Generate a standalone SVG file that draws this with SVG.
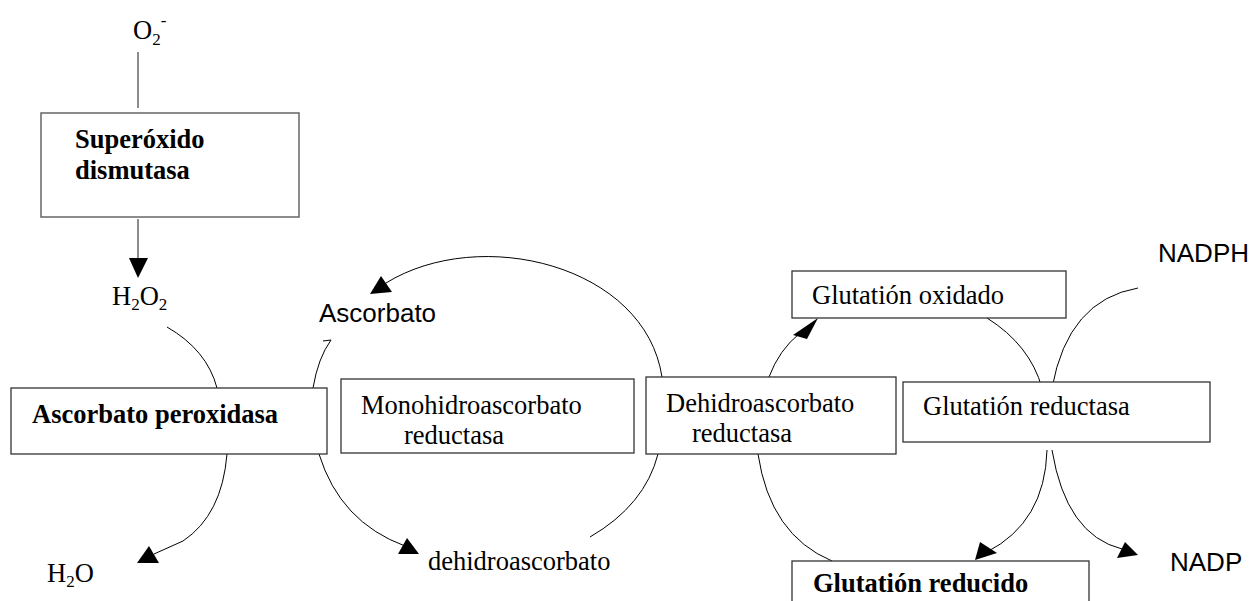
<svg xmlns="http://www.w3.org/2000/svg" width="1252" height="601" viewBox="0 0 1252 601">
<style>
.box{fill:#fff;stroke:#333;stroke-width:1.3}
.sod{fill:#fff;stroke:#666;stroke-width:1.5}
.t{font-family:"Liberation Serif","Times New Roman",serif;font-size:26.5px;fill:#000}
.b{font-weight:bold}
.a{font-family:"Liberation Sans",Arial,sans-serif;font-size:26px;fill:#000}
.c{fill:none;stroke:#000;stroke-width:1}
.g{fill:none;stroke:#666;stroke-width:1.5}
.h{fill:#000;stroke:none}
</style>
<rect width="1252" height="601" fill="#fff"/>
<g id="connectors">
<line class="g" x1="138" y1="52" x2="138" y2="108"/>
<line class="g" x1="138" y1="219" x2="138" y2="259"/>
<polygon class="h" points="129,258 148,258 138,278"/>
<path class="c" d="M167,327 Q207,350 217,388"/>
<path class="c" d="M227,454 Q222,515 183,541 L154,554"/>
<polygon class="h" points="137,563 149,546 159,563"/>
<path class="c" d="M313,388 Q318,358 331,340 L323,341"/>
<path class="c" d="M319,454 Q340,522 405,546"/>
<polygon class="h" points="398,554 407,538 419,554"/>
<path class="c" d="M662,377 C645,265 480,225 386,283"/>
<polygon class="h" points="370,294 381,276 392,292"/>
<path class="c" d="M590,537 Q645,505 658,454"/>
<path class="c" d="M769,377 Q779,350 800,333"/>
<polygon class="h" points="793,335 818,318 807,339"/>
<path class="c" d="M758,454 Q770,535 832,561"/>
<path class="c" d="M987,318 Q1030,345 1042,388"/>
<path class="c" d="M1138,288 Q1068,300 1052,388"/>
<path class="c" d="M1047,450 Q1045,522 987,552"/>
<polygon class="h" points="975,560 980,542 997,553"/>
<path class="c" d="M1052,450 Q1066,535 1122,549"/>
<polygon class="h" points="1117,558 1125,542 1138,555"/>
</g>
<g id="o2">
<text class="t" x="133" y="39">O<tspan font-size="17" dy="6">2</tspan><tspan font-size="17" dy="-19">-</tspan></text>
</g>
<g id="sod">
<rect class="sod" x="41" y="113" width="258" height="104"/>
<text class="t b" x="75" y="148">Superóxido</text>
<text class="t b" x="75" y="179">dismutasa</text>
</g>
<g id="h2o2">
<text class="t" x="112" y="305">H<tspan font-size="17" dy="5">2</tspan><tspan dy="-5">O</tspan><tspan font-size="17" dy="5">2</tspan></text>
</g>
<g id="apx">
<rect class="box" x="11" y="388" width="316" height="66"/>
<text class="t b" x="32" y="423">Ascorbato peroxidasa</text>
</g>
<g id="h2o">
<text class="t" x="47" y="582">H<tspan font-size="17" dy="5">2</tspan><tspan dy="-5">O</tspan></text>
</g>
<g id="ascorbato">
<text class="a" x="319" y="322">Ascorbato</text>
</g>
<g id="mdhar">
<rect class="box" x="341" y="379" width="293" height="74"/>
<text class="t" x="361" y="414">Monohidroascorbato</text>
<text class="t" x="404" y="444">reductasa</text>
</g>
<g id="dehidroascorbato">
<text class="t" x="428" y="570">dehidroascorbato</text>
</g>
<g id="dhar">
<rect class="box" x="646" y="377" width="250" height="77"/>
<text class="t" x="666" y="412">Dehidroascorbato</text>
<text class="t" x="692" y="442">reductasa</text>
</g>
<g id="gox">
<rect class="box" x="792" y="271" width="274" height="47"/>
<text class="t" x="812" y="304">Glutatión oxidado</text>
</g>
<g id="gr">
<rect class="box" x="903" y="382" width="307" height="60"/>
<text class="t" x="923" y="415">Glutatión reductasa</text>
</g>
<g id="gred">
<rect class="box" x="792" y="561" width="297" height="60"/>
<text class="t b" x="813" y="592">Glutatión reducido</text>
</g>
<g id="nadph">
<text class="a" x="1158" y="262">NADPH</text>
</g>
<g id="nadp">
<text class="a" x="1170" y="571">NADP</text>
</g>
</svg>
